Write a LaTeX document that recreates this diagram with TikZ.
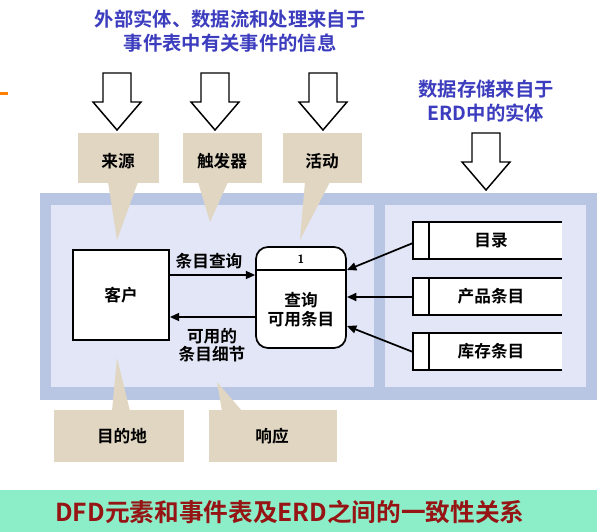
\documentclass[tikz,border=0pt]{standalone}
\usepackage{fontspec}
\newfontfamily\cjk{Noto Sans CJK SC}[BoldFont={* Bold}]
\usetikzlibrary{arrows.meta}
\definecolor{tan}{RGB}{224,214,194}
\definecolor{outerb}{RGB}{184,198,228}
\definecolor{innerb}{RGB}{226,230,246}
\definecolor{bluet}{RGB}{60,60,190}
\definecolor{redt}{RGB}{150,20,20}
\definecolor{bann}{RGB}{140,238,200}
\begin{document}
\begin{tikzpicture}[x=0.75pt,y=-0.75pt,font=\cjk\bfseries,
 lab/.style={font=\cjk\bfseries\fontsize{12.5}{14}\selectfont},
 hol/.style={draw=black,line width=1.1pt,fill=white},
 arr/.style={-{Triangle[length=7pt,width=6pt]},line width=1.3pt},
 store/.style={line width=1.3pt}]
\useasboundingbox (0,0) rectangle (600,532);
\fill[white] (0,0) rectangle (600,532);
% headings
\node[text=bluet,font=\cjk\bfseries\fontsize{14.5}{17.5}\selectfont,align=center] (h1) at (230,31) {外部实体、数据流和处理来自于\\事件表中有关事件的信息};
\node[text=bluet,font=\cjk\bfseries\fontsize{14.5}{17.5}\selectfont,align=center] (h2) at (486,101) {数据存储来自于\\ERD中的实体};
\fill[orange] (0,92) rectangle (8,95);
% hollow arrows
\foreach \cx/\t/\b in {117/73/130,215/73/130,323/73/130,486/133/190}{
 \draw[hol] (\cx-14,\t) -- (\cx+14,\t) -- (\cx+14,\b-28) -- (\cx+24,\b-28) -- (\cx,\b) -- (\cx-24,\b-28) -- (\cx-14,\b-28) -- cycle;}
% panels
\fill[outerb] (40,193) rectangle (597,400);
\fill[innerb] (51,205) rectangle (374,387);
\fill[innerb] (385,205) rectangle (586,387);
% callouts top
\fill[tan] (78,133) rectangle (159,183);
\fill[tan] (108,182) -- (138,182) -- (117,240) -- cycle;
\fill[tan] (183,133) rectangle (262,183);
\fill[tan] (198,182) -- (228,182) -- (210,222) -- cycle;
\fill[tan] (283,133) rectangle (362,183);
\fill[tan] (305,182) -- (330,182) -- (300,240) -- cycle;
\node[lab] (c1) at (118,161) {来源};
\node[lab] (c2) at (222,161) {触发器};
\node[lab] (c3) at (322,161) {活动};
% callouts bottom
\fill[tan] (54,410) rectangle (184,462);
\fill[tan] (112,411) -- (130,411) -- (117,358) -- cycle;
\fill[tan] (209,410) rectangle (337,462);
\fill[tan] (222,411) -- (242,411) -- (217,382) -- cycle;
\node[lab] (c4) at (122,436) {目的地};
\node[lab] (c5) at (272,436) {响应};
% customer and process
\node[draw,line width=1.3pt,fill=white,minimum width=96pt*0.75,minimum height=90pt*0.75,lab] (cust) at (121,295) {客户};
\node[draw,line width=1.3pt,fill=white,rounded corners=9pt,minimum width=90pt*0.75,minimum height=101pt*0.75] (proc) at (301,297.5) {};
\draw[line width=1.3pt] (255,270) -- (347,270);
\node[font=\sffamily\bfseries\small] (pn) at (301,259) {1};
\node[lab,align=center] (pt) at (301,310) {查询\\可用条目};
\draw[arr] (cust.east|-0,275) -- (proc.west|-0,275);
\draw[arr] (proc.west|-0,317) -- (cust.east|-0,317);
\node[lab] (l1) at (209,261) {条目查询};
\node[lab,align=center] (l2) at (212,345) {可用的\\条目细节};
% stores
\foreach \n/\t/\b/\s in {s1/222/259/目录,s2/278/315/产品条目,s3/333/370/库存条目}{
 \fill[white] (413,\t) rectangle (562,\b);
 \draw[store] (562,\t) -- (413,\t) -- (413,\b) -- (562,\b);
 \draw[store] (429,\t) -- (429,\b);
 \node[lab] (\n) at (491,{(\t+\b)/2}) {\s};}
\coordinate (a1) at (413,243);
\coordinate (a2) at (413,297);
\coordinate (a3) at (413,352);
\draw[arr] (a1) -- (347,270);
\draw[arr] (a2) -- (347,297);
\draw[arr] (a3) -- (347,326);
% banner
\fill[bann] (0,490) rectangle (597,532);
\node[text=redt,font=\cjk\bfseries\fontsize{18.5}{20}\selectfont] (ttl) at (290,512) {DFD元素和事件表及ERD之间的一致性关系};
\end{tikzpicture}
\end{document}
